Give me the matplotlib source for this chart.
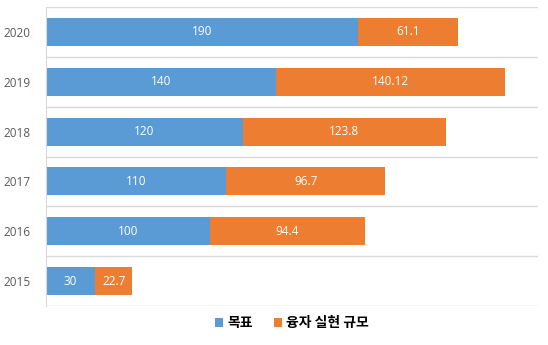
import matplotlib.pyplot as plt
import numpy as np

plt.rcParams['font.family'] = ['Noto Sans CJK KR', 'DejaVu Sans']

# 연도별 목표 및 융자 실현 규모
years = ['2015', '2016', '2017', '2018', '2019', '2020']
target = [30, 100, 110, 120, 140, 190]
actual = [22.7, 94.4, 96.7, 123.8, 140.12, 61.1]
actual_labels = ['22.7', '94.4', '96.7', '123.8', '140.12', '61.1']

blue = '#5B9BD5'
orange = '#ED7D31'
num_font = ['Open Sans', 'DejaVu Sans']

fig = plt.figure(figsize=(5.48, 3.45), dpi=100)
ax = fig.add_axes([46 / 548, 39 / 345, 492 / 548, 299 / 345])

y = np.arange(len(years))
b1 = ax.barh(y, target, height=0.56, color=blue, label='목표')
b2 = ax.barh(y, actual, left=target, height=0.56, color=orange, label='융자 실현 규모')

ax.bar_label(b1, labels=[str(v) for v in target], label_type='center',
             color='white', fontsize=8.5, family=num_font)
ax.bar_label(b2, labels=actual_labels, label_type='center',
             color='white', fontsize=8.5, family=num_font)

ax.set_xlim(0, 300)
ax.set_ylim(-0.5, len(years) - 0.5)
ax.set_yticks(y)
ax.set_yticklabels(years, color='#595959', fontsize=8.5, family=num_font)
for t in ax.get_yticklabels():
    t.set_fontstretch('expanded')
ax.tick_params(axis='y', length=0, pad=11)
ax.set_xticks([])

# 범주 경계 격자선
for b in np.arange(-0.5, len(years), 1.0):
    ax.axhline(b, color='#d9d9d9', linewidth=1, zorder=0)

for s in ['top', 'right', 'bottom']:
    ax.spines[s].set_visible(False)
ax.spines['left'].set_color('#d9d9d9')

leg = fig.legend(handles=[b1, b2], loc='center', bbox_to_anchor=(292 / 548, 1 - 323 / 345),
                 ncol=2, frameon=False, handlelength=0.6, handleheight=0.6,
                 handletextpad=0.3, columnspacing=1.5,
                 prop={'size': 10, 'weight': 'bold'})

fig.savefig('out.png', dpi=100)
